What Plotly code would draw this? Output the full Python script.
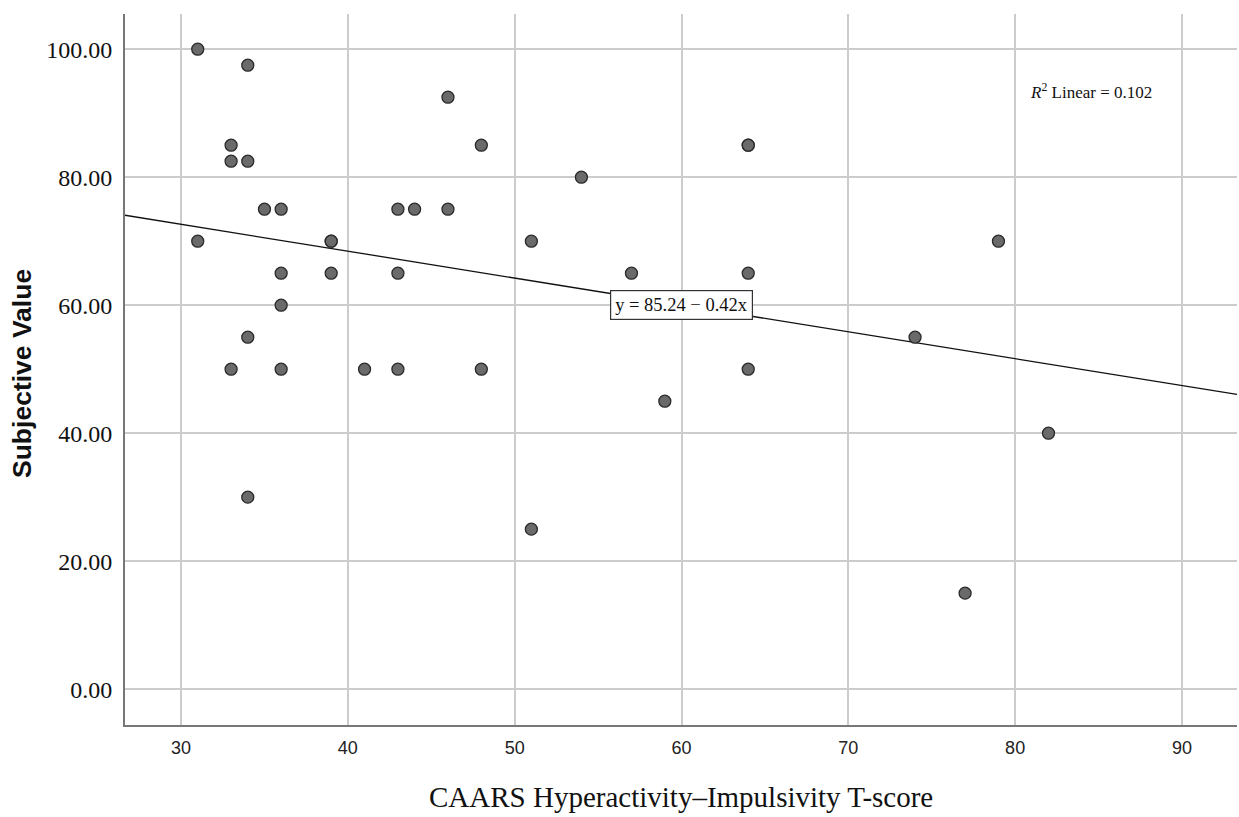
import plotly.graph_objects as go

x_vals = [31, 34, 33, 33, 34, 35, 36, 31, 39, 39, 36, 39, 36, 34, 33, 36, 34,
          41, 43, 44, 43, 43, 46, 48, 46, 48, 51, 51, 54, 57, 59, 64, 64, 64, 64,
          74, 77, 79, 82]
y_vals = [100, 97.5, 85, 82.5, 82.5, 75, 75, 70, 70, 70, 65, 65, 60, 55, 50, 50, 30,
          50, 75, 75, 65, 50, 92.5, 85, 75, 50, 70, 25, 80, 65, 45, 85, 85, 65, 50,
          55, 15, 70, 40]
intercept = 85.24
slope = -0.42
x_range = [26.64, 93.3]
y_range = [-5.6, 105.5]
x_ticks = [30, 40, 50, 60, 70, 80, 90]
y_ticks = [0, 20, 40, 60, 80, 100]
y_ticklabels = ["0.00", "20.00", "40.00", "60.00", "80.00", "100.00"]

fig = go.Figure()
fig.add_trace(go.Scatter(
    x=x_range, y=[intercept + slope * v for v in x_range], mode="lines",
    line=dict(color="#111111", width=1.3), hoverinfo="skip", showlegend=False))
fig.add_trace(go.Scatter(
    x=x_vals, y=y_vals, mode="markers",
    marker=dict(size=12, color="#6a6a6a", line=dict(color="#2a2a2a", width=1.3)),
    showlegend=False))

fig.add_annotation(x=60, y=60, xref="x", yref="y", text="y = 85.24 − 0.42x",
                   showarrow=False, bgcolor="white", bordercolor="#333333",
                   borderwidth=1.2, borderpad=4,
                   font=dict(family="Liberation Serif", size=18.5, color="#111111"))
fig.add_annotation(x=80.8, y=93.4, xref="x", yref="y", xanchor="left",
                   text="<i>R</i><sup>2</sup> Linear = 0.102", showarrow=False,
                   font=dict(family="Liberation Serif", size=17, color="#111111"))
fig.add_annotation(x=0.5, y=-0.101, xref="paper", yref="paper", yanchor="middle",
                   text="CAARS Hyperactivity–Impulsivity T-score", showarrow=False,
                   font=dict(family="Liberation Serif", size=29, color="#111111"))
fig.add_annotation(x=-0.0926, y=0.4937, xref="paper", yref="paper", textangle=-90,
                   xanchor="center", yanchor="middle",
                   text="<b>Subjective Value</b>", showarrow=False,
                   font=dict(family="Liberation Sans", size=26.5, color="#111111"))

fig.update_xaxes(range=x_range, tickvals=x_ticks, showgrid=True, gridcolor="#cccccc",
                 gridwidth=1.5, zeroline=False, showline=True, linecolor="#777777",
                 linewidth=2, ticks="", tickfont=dict(family="Liberation Sans", size=18,
                 color="#222222"), ticklabelstandoff=5)
fig.update_yaxes(range=y_range, tickvals=y_ticks, ticktext=y_ticklabels, showgrid=True,
                 gridcolor="#cccccc", gridwidth=1.5, zeroline=False, showline=True,
                 linecolor="#777777", linewidth=2, ticks="",
                 tickfont=dict(family="Liberation Serif", size=24, color="#111111"),
                 ticklabelstandoff=6)
fig.update_layout(width=1239, height=817, plot_bgcolor="white", paper_bgcolor="white",
                  margin=dict(l=125, r=2, t=14, b=92))
fig.write_html(
    "out.html",
    config={"responsive": False, "displayModeBar": False},
    post_script="document.body.style.margin='0';document.body.style.overflow='hidden';"
                "var gd=document.getElementById('{plot_id}');"
                "Plotly.relayout(gd,{width:1239,height:817});")
